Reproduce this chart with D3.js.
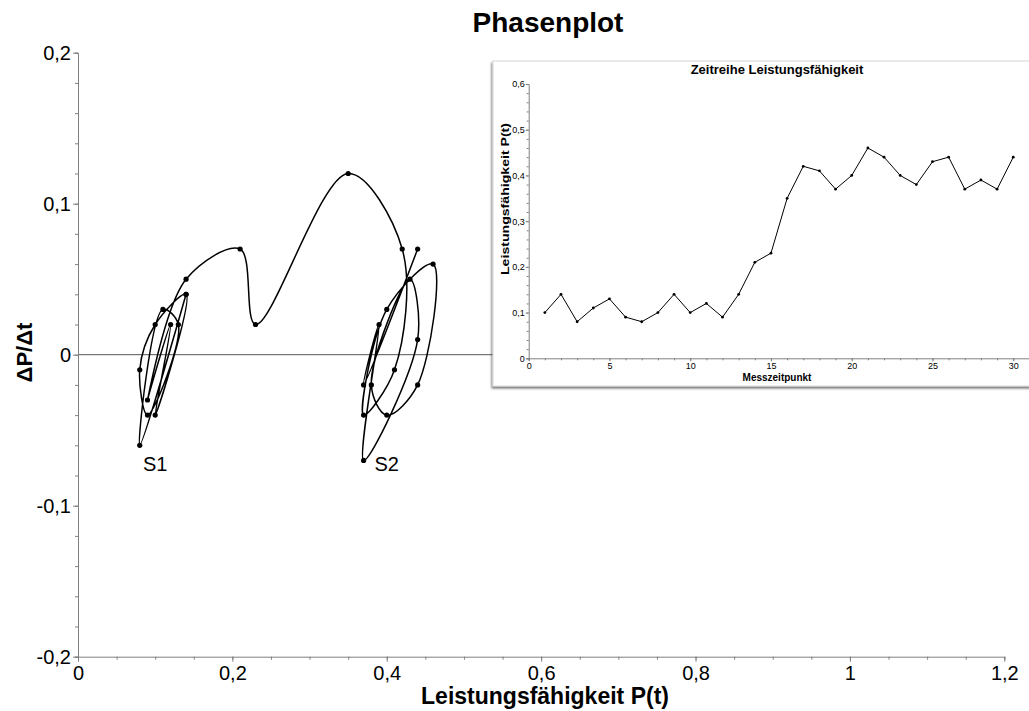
<!DOCTYPE html>
<html>
<head>
<meta charset="utf-8">
<script src="https://cdn.jsdelivr.net/npm/d3@7"></script>
<style>
  body { margin: 0; background: #fff; }
  svg { display: block; font-family: "Liberation Sans", Arial, sans-serif; }
</style>
</head>
<body>
<div id="chart"></div>
<script>
// time series (inset)
var timeT = [1,2,3,4,5,6,7,8,9,10,11,12,13,14,15,16,17,18,19,20,21,22,23,24,25,26,27,28,29,30];
var timeP = [0.10,0.14,0.08,0.11,0.13,0.09,0.08,0.10,0.14,0.10,0.12,0.09,0.14,0.21,0.23,0.35,0.42,0.41,0.37,0.40,0.46,0.44,0.40,0.38,0.43,0.44,0.37,0.39,0.37,0.44];

// phase plot points, P(t) against change dP
var phaseP = [0.14,0.08,0.11,0.13,0.09,0.08,0.10,0.14,0.10,0.12,0.09,0.14,0.21,0.23,0.35,0.42,0.41,0.37,0.40,0.46,0.44,0.40,0.38,0.43,0.44,0.37,0.39,0.37,0.44];
var phaseD = [0.04,-0.06,0.03,0.02,-0.04,-0.01,0.02,0.04,-0.04,0.02,-0.03,0.05,0.07,0.02,0.12,0.07,-0.01,-0.04,0.03,0.06,-0.02,-0.04,-0.02,0.05,0.01,-0.07,0.02,-0.02,0.07];

var mainXTicks = [0,0.2,0.4,0.6,0.8,1,1.2];
var mainYTicks = [-0.2,-0.1,0,0.1,0.2];
var insetXTicks = [0,5,10,15,20,25,30];
var insetYTicks = [0,0.1,0.2,0.3,0.4,0.5,0.6];

var clusterLabels = ["S1","S2"];
var clusterX = [0.10,0.40];
var clusterY = [-0.077,-0.077];

var width = 1029, height = 711;
var de = d3.formatLocale({decimal: ",", thousands: ".", grouping: [3], currency: ["", " €"], minus: "-"});
var fmt = function(d){ return d === 0 ? "0" : de.format("~g")(d); };

var svg = d3.select("#chart").append("svg")
    .attr("width", width)
    .attr("height", height);

var defs = svg.append("defs");
var flt = defs.append("filter").attr("id", "shadow")
    .attr("x", "-5%").attr("y", "-5%").attr("width", "110%").attr("height", "115%");
flt.append("feDropShadow").attr("dx", -1).attr("dy", 2).attr("stdDeviation", 1.3)
    .attr("flood-color", "#000").attr("flood-opacity", 0.55);

// ---------- main plot ----------
var x = d3.scaleLinear().domain([0, 1.2]).range([78, 1004.3]);
var y = d3.scaleLinear().domain([-0.2, 0.2]).range([656.7, 52.7]);
var axisColor = "#808080";

// zero line
svg.append("line")
    .attr("x1", x(0)).attr("x2", x(1.2))
    .attr("y1", y(0)).attr("y2", y(0))
    .attr("stroke", "#555").attr("stroke-width", 1);

// x axis
var xAxis = svg.append("g").attr("transform", "translate(0," + y(-0.2) + ")");
xAxis.call(d3.axisBottom(x).tickValues(d3.range(0, 1.2001, 0.05)).tickSize(3).tickFormat(""));
xAxis.select(".domain").attr("stroke", axisColor);
xAxis.selectAll(".tick line").attr("stroke", axisColor);
var xMaj = svg.append("g").attr("transform", "translate(0," + y(-0.2) + ")")
    .call(d3.axisBottom(x).tickValues(mainXTicks).tickSize(5).tickFormat(fmt).tickPadding(4));
xMaj.select(".domain").remove();
xMaj.selectAll(".tick line").attr("stroke", axisColor);
xMaj.selectAll(".tick text").attr("font-size", 20).attr("fill", "#000")
    .attr("font-family", "Liberation Sans, Arial, sans-serif");

// y axis
var yAxis = svg.append("g").attr("transform", "translate(" + x(0) + ",0)");
yAxis.call(d3.axisLeft(y).tickValues(d3.range(-0.2, 0.2001, 0.02)).tickSize(3).tickFormat(""));
yAxis.select(".domain").attr("stroke", axisColor);
yAxis.selectAll(".tick line").attr("stroke", axisColor);
var yMaj = svg.append("g").attr("transform", "translate(" + x(0) + ",0)")
    .call(d3.axisLeft(y).tickValues(mainYTicks).tickSize(5).tickFormat(fmt).tickPadding(2));
yMaj.select(".domain").remove();
yMaj.selectAll(".tick line").attr("stroke", axisColor);
yMaj.selectAll(".tick text").attr("font-size", 20).attr("fill", "#000")
    .attr("font-family", "Liberation Sans, Arial, sans-serif");

// phase curve
var pts = phaseP.map(function(p, i){ return [p, phaseD[i]]; });
var line = d3.line()
    .x(function(d){ return x(d[0]); })
    .y(function(d){ return y(d[1]); })
    .curve(d3.curveCatmullRom.alpha(0.5));

svg.append("path")
    .datum(pts)
    .attr("d", line)
    .attr("fill", "none")
    .attr("stroke", "#000")
    .attr("stroke-width", 1.5);

svg.selectAll("circle.pp")
    .data(pts)
    .enter().append("circle")
    .attr("class", "pp")
    .attr("cx", function(d){ return x(d[0]); })
    .attr("cy", function(d){ return y(d[1]); })
    .attr("r", 2.6)
    .attr("fill", "#000");

svg.selectAll("text.cl")
    .data(clusterLabels)
    .enter().append("text")
    .attr("class", "cl")
    .attr("x", function(d, i){ return x(clusterX[i]); })
    .attr("y", function(d, i){ return y(clusterY[i]); })
    .attr("text-anchor", "middle")
    .attr("font-size", 20)
    .text(function(d){ return d; });

// titles
svg.append("text")
    .attr("x", 548).attr("y", 32)
    .attr("text-anchor", "middle")
    .attr("font-size", 28).attr("font-weight", "bold")
    .text("Phasenplot");

svg.append("text")
    .attr("x", 545).attr("y", 704)
    .attr("text-anchor", "middle")
    .attr("font-size", 23).attr("font-weight", "bold")
    .text("Leistungsfähigkeit P(t)");

svg.append("text")
    .attr("transform", "translate(31.5,352.5) rotate(-90)")
    .attr("text-anchor", "middle")
    .attr("font-size", 22).attr("font-weight", "bold")
    .text("ΔP/Δt");

// ---------- inset ----------
var inset = svg.append("g");
inset.append("rect")
    .attr("x", 493).attr("y", 61)
    .attr("width", 560).attr("height", 325)
    .attr("fill", "#fff")
    .attr("stroke", "#d8d8d8")
    .attr("filter", "url(#shadow)");

var ix = d3.scaleLinear().domain([0, 31]).range([528.7, 1029.4]);
var iy = d3.scaleLinear().domain([0, 0.6]).range([358.3, 84]);

var ixMin = inset.append("g").attr("transform", "translate(0," + iy(0) + ")")
    .call(d3.axisBottom(ix).tickValues(d3.range(0, 32, 1)).tickSize(2).tickFormat(""));
ixMin.select(".domain").attr("stroke", axisColor);
ixMin.selectAll(".tick line").attr("stroke", axisColor);
var ixMaj = inset.append("g").attr("transform", "translate(0," + iy(0) + ")")
    .call(d3.axisBottom(ix).tickValues(insetXTicks).tickSize(3).tickPadding(1).tickFormat(fmt));
ixMaj.select(".domain").remove();
ixMaj.selectAll(".tick line").attr("stroke", axisColor);
ixMaj.selectAll(".tick text").attr("font-size", 9).attr("fill", "#000")
    .attr("font-family", "Liberation Sans, Arial, sans-serif");

var iyMin = inset.append("g").attr("transform", "translate(" + ix(0) + ",0)")
    .call(d3.axisLeft(iy).tickValues(d3.range(0, 0.6001, 0.02)).tickSize(2).tickFormat(""));
iyMin.select(".domain").attr("stroke", axisColor);
iyMin.selectAll(".tick line").attr("stroke", axisColor);
var iyMaj = inset.append("g").attr("transform", "translate(" + ix(0) + ",0)")
    .call(d3.axisLeft(iy).tickValues(insetYTicks).tickSize(3).tickPadding(1).tickFormat(fmt));
iyMaj.select(".domain").remove();
iyMaj.selectAll(".tick line").attr("stroke", axisColor);
iyMaj.selectAll(".tick text").attr("font-size", 9).attr("fill", "#000")
    .attr("font-family", "Liberation Sans, Arial, sans-serif");

var tline = d3.line()
    .x(function(d, i){ return ix(timeT[i]); })
    .y(function(d){ return iy(d); });

inset.append("path")
    .datum(timeP)
    .attr("d", tline)
    .attr("fill", "none")
    .attr("stroke", "#000")
    .attr("stroke-width", 1);

inset.selectAll("circle")
    .data(timeP)
    .enter().append("circle")
    .attr("cx", function(d, i){ return ix(timeT[i]); })
    .attr("cy", function(d){ return iy(d); })
    .attr("r", 1.4)
    .attr("fill", "#000");

inset.append("text")
    .attr("x", 777).attr("y", 74)
    .attr("text-anchor", "middle")
    .attr("font-size", 13).attr("font-weight", "bold")
    .text("Zeitreihe Leistungsfähigkeit");

inset.append("text")
    .attr("x", 777).attr("y", 381)
    .attr("text-anchor", "middle")
    .attr("font-size", 10).attr("font-weight", "bold")
    .text("Messzeitpunkt");

inset.append("text")
    .attr("transform", "translate(509,199) rotate(-90)")
    .attr("text-anchor", "middle")
    .attr("font-size", 11).attr("font-weight", "bold")
    .attr("textLength", 152).attr("lengthAdjust", "spacingAndGlyphs")
    .text("Leistungsfähigkeit P(t)");
</script>
</body>
</html>
